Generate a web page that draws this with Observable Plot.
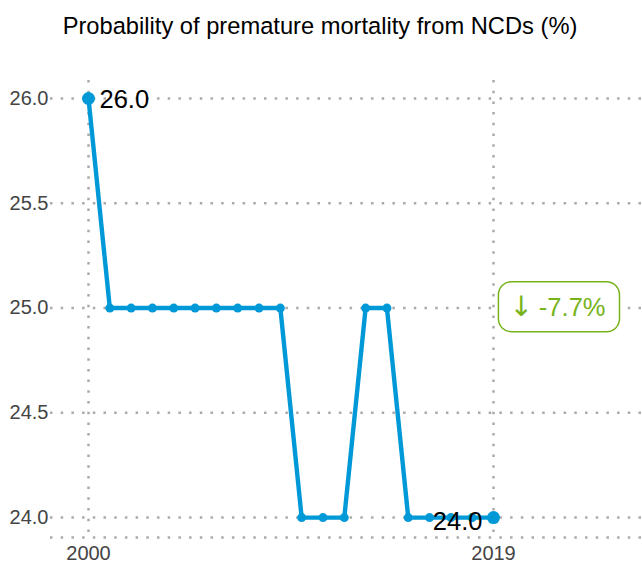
<!DOCTYPE html>
<html>
<head>
<meta charset="utf-8">
<script src="https://cdn.jsdelivr.net/npm/d3@7"></script>
<script src="https://cdn.jsdelivr.net/npm/@observablehq/plot@0.6"></script>
<style>
  html, body { margin: 0; padding: 0; background: #fff; }
  body { width: 642px; height: 564px; overflow: hidden; font-family: "Liberation Sans", Arial, sans-serif; }
  #title { height: 50px; line-height: 52px; text-align: center; font-size: 23.7px; color: #000; padding-right: 2px; white-space: nowrap; }
</style>
</head>
<body>
<div id="title">Probability of premature mortality from NCDs (%)</div>
<div id="chart"></div>
<script>
const years = [2000, 2001, 2002, 2003, 2004, 2005, 2006, 2007, 2008, 2009,
               2010, 2011, 2012, 2013, 2014, 2015, 2016, 2017, 2018, 2019];
const values = [26.0, 25.0, 25.0, 25.0, 25.0, 25.0, 25.0, 25.0, 25.0, 25.0,
                24.0, 24.0, 24.0, 25.0, 25.0, 24.0, 24.0, 24.0, 24.0, 24.0];
const yTicks = [24.0, 24.5, 25.0, 25.5, 26.0];
const xTicks = [2000, 2019];
const changeArrow = "↓";
const changeText = "-7.7%";
const badgeYear = 2022;
const badgeValue = 25.0;

const data = years.map((y, i) => ({year: y, value: values[i]}));
const first = data[0];
const last = data[data.length - 1];

const blue = "#0099d8";
const green = "#77b31b";
const gridColor = "#aaaaaa";
const dash = "2.5,8.2";

const chart = Plot.plot({
  width: 642,
  height: 514,
  marginTop: 30,
  marginBottom: 27,
  marginLeft: 50,
  marginRight: 0,
  style: {fontFamily: "'Liberation Sans', Arial, sans-serif", fontSize: "20px", background: "#fff", overflow: "visible"},
  x: {domain: [1998.217, 2025.99], ticks: xTicks, tickFormat: d => String(d), label: null},
  y: {domain: [23.905, 26.086], ticks: yTicks, tickFormat: d3.format(".1f"), label: null},
  marks: [
    Plot.ruleY(yTicks, {stroke: gridColor, strokeWidth: 2.5, strokeDasharray: dash}),
    Plot.ruleY([23.905], {stroke: gridColor, strokeWidth: 2.5, strokeDasharray: dash}),
    Plot.ruleX(xTicks, {stroke: gridColor, strokeWidth: 2.5, strokeDasharray: dash}),
    Plot.axisY({ticks: yTicks, tickFormat: d3.format(".1f"), tickSize: 0, tickPadding: 2, fill: "#444", label: null}),
    Plot.axisX({ticks: xTicks, tickFormat: d => String(d), tickSize: 0, tickPadding: 8, fill: "#444", label: null}),
    Plot.line(data, {x: "year", y: "value", stroke: blue, strokeWidth: 4.4, strokeLinejoin: "miter"}),
    Plot.dot(data.slice(1, -1), {x: "year", y: "value", r: 4.5, fill: blue}),
    Plot.dot([first, last], {x: "year", y: "value", r: 6.5, fill: blue}),
    Plot.text([first], {x: "year", y: "value", text: d => d.value.toFixed(1), textAnchor: "start", dx: 11, dy: 1, fontSize: 25.5, fill: "#000"}),
    Plot.text([last], {x: "year", y: "value", text: d => d.value.toFixed(1), textAnchor: "end", dx: -11, dy: 4, fontSize: 25.5, fill: "#000"}),
    Plot.text([{year: badgeYear, value: badgeValue}], {x: "year", y: "value", text: () => changeArrow + changeText, fontSize: 25.5, fill: green, className: "badge-text"})
  ]
});

document.getElementById("chart").appendChild(chart);

// arrow glyph in a font that draws it full-size, then a rounded box around the badge
const svg = d3.select(chart);
svg.selectAll(".badge-text text").each(function () {
  const t = d3.select(this);
  t.text(null);
  t.append("tspan").attr("font-family", "'DejaVu Sans'").attr("font-size", 28).text(changeArrow);
  t.append("tspan").attr("dx", 6).text(changeText);
  const b = this.getBBox();
  const padL = 11, padR = 14, h = 50;
  const cy = b.y + b.height / 2;
  d3.select(this.parentNode).insert("rect", "text")
    .attr("transform", t.attr("transform"))
    .attr("x", b.x - padL)
    .attr("y", cy - h / 2)
    .attr("width", b.width + padL + padR)
    .attr("height", h)
    .attr("rx", 13)
    .attr("fill", "#fff")
    .attr("stroke", green)
    .attr("stroke-width", 1.5);
});
</script>
</body>
</html>
